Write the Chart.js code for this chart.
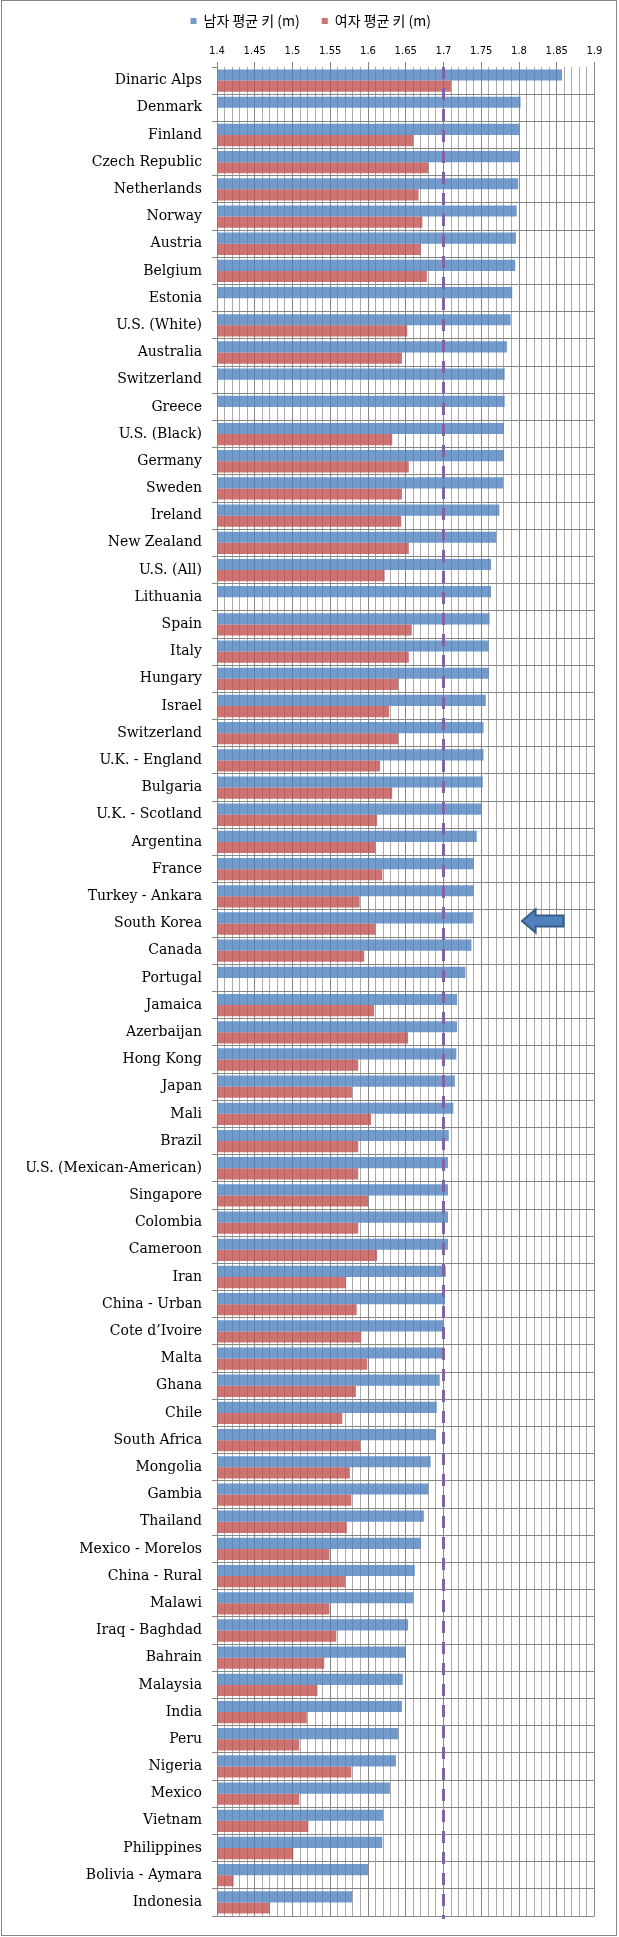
<!DOCTYPE html>
<html>
<head>
<meta charset="utf-8">
<script src="https://cdn.jsdelivr.net/npm/chart.js@4"></script>
<style>
  html, body { margin: 0; padding: 0; background: #fff; }
  #wrap { width: 619px; height: 1937px; }
  canvas { display: block; }
</style>
</head>
<body>
<div id="wrap"><canvas id="c" width="619" height="1937"></canvas></div>
<script>
const categories = [
  'Dinaric Alps','Denmark','Finland','Czech Republic','Netherlands','Norway','Austria','Belgium','Estonia','U.S. (White)',
  'Australia','Switzerland','Greece','U.S. (Black)','Germany','Sweden','Ireland','New Zealand','U.S. (All)','Lithuania',
  'Spain','Italy','Hungary','Israel','Switzerland','U.K. - England','Bulgaria','U.K. - Scotland','Argentina','France',
  'Turkey - Ankara','South Korea','Canada','Portugal','Jamaica','Azerbaijan','Hong Kong','Japan','Mali','Brazil',
  'U.S. (Mexican-American)','Singapore','Colombia','Cameroon','Iran','China - Urban','Cote d\u2019Ivoire','Malta','Ghana','Chile',
  'South Africa','Mongolia','Gambia','Thailand','Mexico - Morelos','China - Rural','Malawi','Iraq - Baghdad','Bahrain','Malaysia',
  'India','Peru','Nigeria','Mexico','Vietnam','Philippines','Bolivia - Aymara','Indonesia'
];
const maleHeights = [
  1.857,1.802,1.800,1.800,1.799,1.797,1.796,1.795,1.791,1.789,
  1.784,1.781,1.781,1.780,1.780,1.779,1.774,1.770,1.763,1.763,
  1.761,1.760,1.760,1.756,1.753,1.753,1.752,1.750,1.744,1.740,
  1.740,1.739,1.737,1.729,1.718,1.718,1.717,1.715,1.713,1.707,
  1.706,1.706,1.706,1.706,1.703,1.702,1.700,1.700,1.695,1.691,
  1.690,1.683,1.680,1.674,1.670,1.662,1.660,1.653,1.650,1.646,
  1.645,1.640,1.637,1.629,1.620,1.619,1.600,1.579
];
const femaleHeights = [
  1.710,null,1.660,1.680,1.667,1.672,1.670,1.678,null,1.652,
  1.645,null,null,1.632,1.654,1.645,1.644,1.654,1.622,null,
  1.658,1.654,1.640,1.628,1.640,1.616,1.632,1.612,1.610,1.619,
  1.589,1.610,1.595,null,1.608,1.653,1.587,1.579,1.604,1.587,
  1.587,1.600,1.587,1.612,1.571,1.585,1.591,1.599,1.584,1.566,
  1.590,1.576,1.578,1.572,1.549,1.570,1.549,1.558,1.542,1.533,
  1.519,1.509,1.578,1.509,1.521,1.501,1.422,1.470
];
const seriesLabels = ['남자 평균 키 (m)', '여자 평균 키 (m)'];
const xTickLabels = ['1.4','1.45','1.5','1.55','1.6','1.65','1.7','1.75','1.8','1.85','1.9'];
const X_MIN = 1.4;
const X_MAX = 1.9;
const REF_LINE = 1.7;
const ARROW_CATEGORY = 'South Korea';
const ARROW_TIP = 1.804;
const ARROW_NECK = 1.822;
const ARROW_TAIL = 1.859;

const isMajor = v => (Math.round(v * 100) - 140) % 5 === 0;

const framePlugin = {
  id: 'frame',
  beforeDraw(chart) {
    const ctx = chart.ctx;
    ctx.save();
    ctx.fillStyle = '#ffffff';
    ctx.fillRect(0, 0, chart.width, chart.height);
    ctx.restore();
  },
  afterDraw(chart) {
    const ctx = chart.ctx;
    ctx.save();
    ctx.strokeStyle = '#868686';
    ctx.lineWidth = 1;
    ctx.strokeRect(1.5, 0.5, 615, 1935);
    ctx.restore();
  }
};

const refLinePlugin = {
  id: 'refLine',
  afterDatasetsDraw(chart) {
    const {ctx, chartArea, scales} = chart;
    const x = scales.x.getPixelForValue(REF_LINE);
    ctx.save();
    ctx.strokeStyle = '#8064A2';
    ctx.lineWidth = 3;
    ctx.setLineDash([12, 9]);
    ctx.beginPath();
    ctx.moveTo(x, chartArea.top);
    ctx.lineTo(x, chartArea.bottom + 3);
    ctx.stroke();
    ctx.restore();
  }
};

const arrowPlugin = {
  id: 'arrow',
  afterDraw(chart) {
    const {ctx, scales} = chart;
    const yc = scales.y.getPixelForValue(categories.indexOf(ARROW_CATEGORY)) - 2.5;
    const xt = scales.x.getPixelForValue(ARROW_TIP);
    const xn = scales.x.getPixelForValue(ARROW_NECK);
    const xe = scales.x.getPixelForValue(ARROW_TAIL);
    const hh = 11.5, bh = 5.5;
    ctx.save();
    ctx.beginPath();
    ctx.moveTo(xt, yc);
    ctx.lineTo(xn, yc - hh);
    ctx.lineTo(xn, yc - bh);
    ctx.lineTo(xe, yc - bh);
    ctx.lineTo(xe, yc + bh);
    ctx.lineTo(xn, yc + bh);
    ctx.lineTo(xn, yc + hh);
    ctx.closePath();
    ctx.fillStyle = '#4F81BD';
    ctx.fill();
    ctx.strokeStyle = '#385D8A';
    ctx.lineWidth = 2;
    ctx.stroke();
    ctx.restore();
  }
};

new Chart(document.getElementById('c'), {
  type: 'bar',
  data: {
    labels: categories,
    datasets: [
      { label: seriesLabels[0], data: maleHeights, backgroundColor: 'rgba(79,129,189,0.8)', borderWidth: 0, base: X_MIN },
      { label: seriesLabels[1], data: femaleHeights, backgroundColor: 'rgba(192,80,77,0.8)', borderWidth: 0, base: X_MIN }
    ]
  },
  options: {
    indexAxis: 'y',
    responsive: false,
    animation: false,
    devicePixelRatio: 1,
    categoryPercentage: 0.82,
    barPercentage: 1.0,
    layout: { padding: { top: 6, left: 27, right: 24.5, bottom: 21 } },
    plugins: {
      tooltip: { enabled: false },
      legend: {
        position: 'top',
        align: 'center',
        labels: {
          boxWidth: 6,
          boxHeight: 6,
          padding: 8,
          color: '#000',
          font: { family: "'Noto Sans CJK KR', sans-serif", size: 14 },
          generateLabels(chart) {
            const items = Chart.defaults.plugins.legend.labels.generateLabels(chart);
            items.forEach((it, i) => { if (i < items.length - 1) it.text = it.text + '\u2003'; });
            return items;
          }
        }
      }
    },
    scales: {
      x: {
        position: 'top',
        min: X_MIN,
        max: X_MAX,
        afterFit(scale) { scale.height = 29; },
        border: { display: false },
        grid: {
          color: ctx => (ctx.tick && isMajor(ctx.tick.value)) ? '#878787' : '#ABABAB',
          tickColor: ctx => (ctx.tick && isMajor(ctx.tick.value)) ? '#878787' : 'rgba(0,0,0,0)',
          tickLength: 5,
          lineWidth: 1
        },
        ticks: {
          stepSize: 0.01,
          maxTicksLimit: 60,
          autoSkip: false,
          maxRotation: 0,
          padding: 5,
          color: '#000',
          font: { family: "'DejaVu Sans', sans-serif", size: 10 },
          callback(value) {
            const h = Math.round(value * 100) - 140;
            return h % 5 === 0 ? xTickLabels[h / 5] : '';
          }
        }
      },
      y: {
        afterFit(scale) { scale.width = 190; },
        border: { display: true, color: '#878787', width: 1 },
        grid: {
          offset: true,
          color: ctx => ctx.index === 0 ? 'rgba(0,0,0,0)' : '#878787',
          tickColor: '#878787',
          tickLength: 5,
          lineWidth: 1
        },
        ticks: {
          autoSkip: false,
          padding: 10,
          color: '#000',
          font: { family: "'DejaVu Serif', serif", size: 14 }
        }
      }
    }
  },
  plugins: [framePlugin, refLinePlugin, arrowPlugin]
});
</script>
</body>
</html>
